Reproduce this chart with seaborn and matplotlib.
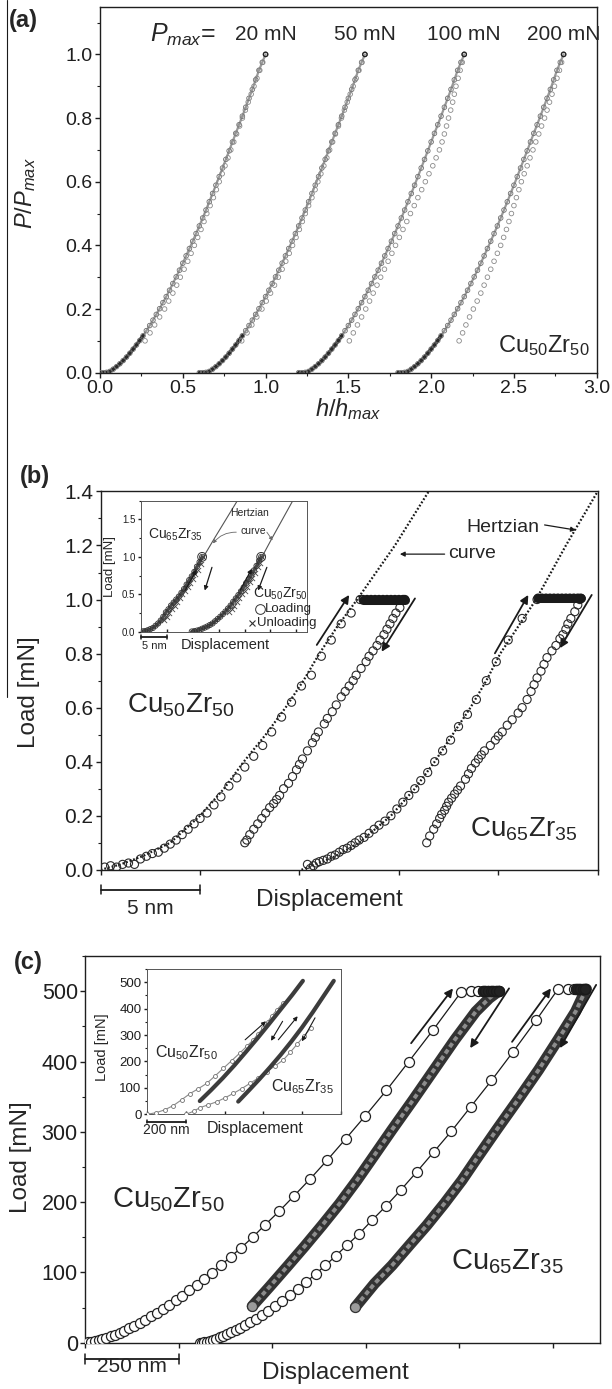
import matplotlib
matplotlib.use("Agg")
import matplotlib.pyplot as plt
from matplotlib.lines import Line2D
from matplotlib.ticker import MultipleLocator
import seaborn as sns

# ---------------- panel (a): normalised P/Pmax vs h/hmax ----------------
a_labels = ["20 mN", "50 mN", "100 mN", "200 mN"]
a_shift = [0.0, 0.6, 1.2, 1.8]          # each curve is shifted along h/hmax
a_load_h = [0.00, 0.02, 0.04, 0.06, 0.08, 0.10, 0.12, 0.14, 0.16, 0.18, 0.20,
            0.22, 0.24, 0.26, 0.28, 0.30, 0.32, 0.34, 0.36, 0.38, 0.40, 0.42,
            0.44, 0.46, 0.48, 0.50, 0.52, 0.54, 0.56, 0.58, 0.60, 0.62, 0.64,
            0.66, 0.68, 0.70, 0.72, 0.74, 0.76, 0.78, 0.80, 0.82, 0.84, 0.86,
            0.88, 0.90, 0.92, 0.94, 0.96, 0.98, 1.00]
a_load_p = [0.000, 0.000, 0.001, 0.004, 0.011, 0.019, 0.028, 0.038, 0.049, 0.061,
            0.074, 0.087, 0.101, 0.116, 0.132, 0.148, 0.165, 0.183, 0.201, 0.220,
            0.239, 0.259, 0.280, 0.301, 0.322, 0.344, 0.367, 0.390, 0.413, 0.437,
            0.461, 0.486, 0.511, 0.537, 0.563, 0.589, 0.616, 0.643, 0.670, 0.697,
            0.725, 0.752, 0.779, 0.806, 0.834, 0.862, 0.890, 0.920, 0.950, 0.975,
            1.000]
a_unload_p = [0.100, 0.125, 0.150, 0.175, 0.200, 0.225, 0.250, 0.275, 0.300, 0.325,
              0.350, 0.375, 0.400, 0.425, 0.450, 0.475, 0.500, 0.525, 0.550, 0.575,
              0.600, 0.625, 0.650, 0.675, 0.700, 0.725, 0.750, 0.775, 0.800, 0.825,
              0.850, 0.875, 0.900, 0.925, 0.950, 0.975, 1.000]
a_unload_h = [
    [0.272, 0.302, 0.330, 0.360, 0.390, 0.415, 0.440, 0.463, 0.485, 0.508, 0.530,
     0.550, 0.570, 0.590, 0.610, 0.628, 0.645, 0.665, 0.685, 0.703, 0.720, 0.738,
     0.755, 0.773, 0.790, 0.808, 0.825, 0.843, 0.860, 0.878, 0.895, 0.913, 0.930,
     0.948, 0.965, 0.983, 1.000],
    [0.256, 0.288, 0.317, 0.347, 0.378, 0.404, 0.430, 0.454, 0.477, 0.500, 0.522,
     0.543, 0.563, 0.584, 0.604, 0.622, 0.640, 0.660, 0.680, 0.699, 0.716, 0.734,
     0.752, 0.770, 0.787, 0.805, 0.822, 0.840, 0.858, 0.876, 0.893, 0.911, 0.929,
     0.947, 0.964, 0.982, 1.000],
    [0.306, 0.330, 0.355, 0.380, 0.405, 0.428, 0.450, 0.473, 0.495, 0.518, 0.540,
     0.563, 0.585, 0.608, 0.630, 0.653, 0.675, 0.698, 0.720, 0.743, 0.765, 0.787,
     0.810, 0.830, 0.850, 0.866, 0.880, 0.893, 0.905, 0.918, 0.930, 0.940, 0.950,
     0.963, 0.975, 0.988, 1.000],
    [0.369, 0.390, 0.410, 0.432, 0.455, 0.478, 0.500, 0.520, 0.540, 0.560, 0.580,
     0.600, 0.620, 0.638, 0.655, 0.670, 0.685, 0.700, 0.715, 0.730, 0.745, 0.762,
     0.780, 0.797, 0.815, 0.832, 0.850, 0.867, 0.885, 0.900, 0.915, 0.930, 0.945,
     0.960, 0.975, 0.988, 1.000],
]

# ---------------- panel (b): 1 mN indents ----------------
b_hertz1_h = [0.0, 1.0, 2.1, 3.5, 5.0, 6.2, 7.2, 8.3, 9.3, 10.2, 11.0, 11.9, 12.9, 14.8, 16.5]
b_hertz1_p = [0, 0.02, 0.05, 0.1, 0.2, 0.3, 0.4, 0.5, 0.6, 0.7, 0.8, 0.9, 1.0, 1.2, 1.4]
b_hertz2_h = [10.1, 10.8, 11.8, 13.0, 14.6, 15.8, 16.8, 17.7, 18.6, 19.4, 20.1, 21.0, 21.9, 23.4, 25.0]
b_hertz2_p = [0, 0.02, 0.05, 0.1, 0.2, 0.3, 0.4, 0.5, 0.6, 0.7, 0.8, 0.9, 1.0, 1.2, 1.4]

b_cu50_load_h = [0.2, 0.5, 0.8, 1.1, 1.4, 1.7, 2.0, 2.3, 2.6, 2.9, 3.2, 3.5, 3.8, 4.1,
                 4.4, 4.7, 5.0, 5.35, 5.7, 6.05, 6.45, 6.85, 7.25, 7.7, 8.15, 8.6,
                 9.1, 9.6, 10.1, 10.6, 11.1, 11.6, 12.1, 12.6, 13.05]
b_cu50_load_p = [0.01, 0.015, 0.01, 0.02, 0.025, 0.02, 0.04, 0.05, 0.06, 0.065, 0.08,
                 0.095, 0.11, 0.13, 0.15, 0.17, 0.19, 0.21, 0.24, 0.27, 0.31, 0.34,
                 0.38, 0.42, 0.46, 0.51, 0.565, 0.62, 0.68, 0.72, 0.79, 0.85, 0.91,
                 0.95, 1.0]
b_cu50_hold_h = [13.2, 13.4, 13.6, 13.8, 14.0, 14.2, 14.4, 14.6, 14.8, 15.0, 15.2, 15.3]
b_cu50_hold_p = [1.0, 1.0, 1.0, 1.0, 1.0, 1.0, 1.0, 1.0, 1.0, 1.0, 1.0, 1.0]
b_cu50_unload_h = [15.25, 15.05, 14.85, 14.7, 14.55, 14.4, 14.25, 14.05, 13.9, 13.7,
                   13.5, 13.35, 13.1, 12.85, 12.7, 12.5, 12.3, 12.1, 11.85, 11.65,
                   11.4, 11.25, 10.95, 10.8, 10.65, 10.4, 10.15, 10.0, 9.85, 9.65,
                   9.45, 9.2, 9.0, 8.85, 8.7, 8.5, 8.3, 8.1, 7.9, 7.7, 7.5, 7.35, 7.25]
b_cu50_unload_p = [1.0, 0.97, 0.95, 0.93, 0.91, 0.89, 0.87, 0.85, 0.83, 0.81,
                   0.79, 0.77, 0.745, 0.72, 0.70, 0.68, 0.66, 0.64, 0.61, 0.585,
                   0.56, 0.54, 0.51, 0.49, 0.47, 0.44, 0.41, 0.39, 0.37, 0.345,
                   0.32, 0.30, 0.275, 0.26, 0.245, 0.23, 0.21, 0.19, 0.17, 0.15,
                   0.13, 0.11, 0.10]

b_cu65_load_h = [10.4, 10.55, 10.7, 10.85, 11.0, 11.2, 11.4, 11.6, 11.8, 12.0, 12.2,
                 12.4, 12.6, 12.8, 13.0, 13.25, 13.5, 13.75, 14.0, 14.3, 14.6, 14.9,
                 15.2, 15.5, 15.8, 16.1, 16.45, 16.8, 17.2, 17.6, 18.0, 18.45, 18.9,
                 19.4, 19.9, 20.5, 21.2, 21.95]
b_cu65_load_p = [0.02, 0.005, 0.015, 0.025, 0.03, 0.035, 0.04, 0.05, 0.055, 0.065,
                 0.075, 0.08, 0.09, 0.10, 0.11, 0.12, 0.135, 0.15, 0.165, 0.18, 0.20,
                 0.225, 0.25, 0.275, 0.30, 0.33, 0.36, 0.40, 0.44, 0.48, 0.53, 0.575,
                 0.63, 0.70, 0.77, 0.85, 0.93, 1.0]
b_cu65_hold_h = [22.0, 22.2, 22.4, 22.6, 22.8, 23.0, 23.2, 23.4, 23.6, 23.8, 24.0, 24.15]
b_cu65_hold_p = [1.005, 1.005, 1.005, 1.005, 1.005, 1.005, 1.005, 1.005, 1.005, 1.005,
                 1.005, 1.005]
b_cu65_unload_h = [24.1, 24.0, 23.85, 23.65, 23.5, 23.4, 23.25, 23.1, 22.9, 22.7,
                   22.45, 22.3, 22.15, 21.95, 21.8, 21.65, 21.45, 21.2, 21.0, 20.7,
                   20.45, 20.2, 20.0, 19.85, 19.6, 19.3, 19.15, 19.0, 18.85, 18.65,
                   18.5, 18.35, 18.1, 17.95, 17.8, 17.65, 17.5, 17.4, 17.3, 17.15,
                   17.05, 16.9, 16.75, 16.55, 16.4]
b_cu65_unload_p = [1.0, 0.98, 0.955, 0.93, 0.91, 0.89, 0.87, 0.855, 0.83, 0.81,
                   0.785, 0.76, 0.735, 0.71, 0.685, 0.66, 0.63, 0.60, 0.58, 0.555,
                   0.535, 0.51, 0.495, 0.48, 0.46, 0.44, 0.425, 0.41, 0.395, 0.375,
                   0.355, 0.335, 0.31, 0.295, 0.28, 0.265, 0.25, 0.235, 0.22, 0.205,
                   0.19, 0.17, 0.15, 0.125, 0.10]

# inset of (b)
bi_cu65_load_h = [0.3, 0.8, 1.3, 1.8, 2.3, 2.8, 3.3, 3.8, 4.3, 4.8, 5.3, 5.8, 6.3, 6.8,
                  7.3, 7.8, 8.3, 8.8, 9.3, 9.8, 10.3, 10.8, 11.3, 11.8]
bi_cu65_load_p = [0.005, 0.01, 0.02, 0.035, 0.05, 0.08, 0.11, 0.15, 0.2, 0.26, 0.3,
                  0.35, 0.39, 0.43, 0.47, 0.52, 0.57, 0.63, 0.69, 0.74, 0.8, 0.87,
                  0.93, 1.0]
bi_cu65_unload_h = [11.9, 11.5, 11.0, 10.5, 10.0, 9.5, 9.0, 8.5, 8.0, 7.5, 7.0, 6.5,
                    6.0, 5.5, 5.0, 4.5]
bi_cu65_unload_p = [1.0, 0.9, 0.83, 0.77, 0.71, 0.65, 0.6, 0.55, 0.5, 0.45, 0.4, 0.35,
                    0.3, 0.25, 0.2, 0.16]
bi_cu50_load_h = [9.8, 10.3, 10.8, 11.3, 11.8, 12.3, 12.8, 13.3, 13.8, 14.3, 14.8,
                  15.3, 15.8, 16.3, 16.8, 17.3, 17.8, 18.3, 18.8, 19.3, 19.8, 20.3,
                  20.8, 21.3, 21.8, 22.3, 22.8, 23.2]
bi_cu50_load_p = [0.003, 0.008, 0.015, 0.025, 0.04, 0.055, 0.07, 0.09, 0.11, 0.14,
                  0.17, 0.2, 0.235, 0.27, 0.31, 0.35, 0.4, 0.445, 0.49, 0.54, 0.59,
                  0.65, 0.7, 0.76, 0.82, 0.88, 0.95, 1.0]
bi_cu50_unload_h = [23.3, 22.9, 22.5, 22.0, 21.5, 21.0, 20.5, 20.0, 19.5, 19.0, 18.5,
                    18.0, 17.5, 17.0]
bi_cu50_unload_p = [1.0, 0.92, 0.86, 0.79, 0.72, 0.66, 0.6, 0.55, 0.5, 0.45, 0.4,
                    0.35, 0.3, 0.26]
bi_hertz1_h = [0, 3, 5, 7.6, 9.9, 11.8, 14.2, 16.4, 18.6]
bi_hertz1_p = [0, 0.07, 0.2, 0.48, 0.73, 0.97, 1.25, 1.5, 1.75]
bi_hertz2_h = [9.5, 12.5, 14.5, 17.0, 19.3, 21.4, 23.2, 25.3, 27.3, 29.3]
bi_hertz2_p = [0, 0.06, 0.15, 0.33, 0.54, 0.76, 0.98, 1.25, 1.5, 1.75]

# ---------------- panel (c): 500 mN indents ----------------
c_cu50_load_x = [0, 8, 16, 25, 35, 45, 56, 67, 79, 91, 104, 117, 131, 145, 160, 175,
                 191, 207, 224, 241, 259, 278, 297, 317, 339, 362, 388, 416, 447, 481,
                 518, 558, 601, 647, 696, 749, 805, 865, 930, 1005]
c_cu50_load_p = [0, 0.4, 1.1, 2.1, 3.5, 5.0, 7.0, 9.1, 11.6, 14.3, 17.4, 20.7, 24.5,
                 28.4, 32.9, 37.5, 42.8, 48.2, 54.1, 60.3, 67.1, 74.5, 82.1, 90.4, 99.8,
                 110, 122, 135, 150, 168, 187, 209, 233, 260, 290, 323, 359, 400, 445,
                 499]
c_cu50_hold_x = [1030, 1049, 1063, 1070, 1077, 1084, 1091, 1098, 1105]
c_cu50_hold_p = [500, 500, 500, 500, 500, 500, 500, 500, 500]
c_cu50_unload_x = [1105, 1080, 1044, 988, 932, 876, 820, 764, 726, 680, 633, 586,
                   539, 493, 446]
c_cu50_unload_p = [500, 490, 471, 431, 388, 345, 303, 260, 231, 198, 167, 137, 108,
                   80, 52]

c_cu65_load_x = [306, 312, 318, 325, 333, 341, 350, 359, 369, 379, 390, 402, 414, 427,
                 441, 456, 472, 489, 507, 526, 546, 568, 591, 616, 642, 670, 700, 732,
                 766, 803, 843, 886, 931, 979, 1031, 1086, 1144, 1206, 1264]
c_cu65_load_p = [0, 0.3, 0.9, 1.7, 2.8, 4.1, 5.8, 7.6, 9.7, 12.0, 14.8, 17.9, 21.2,
                 25.0, 29.3, 34.2, 39.6, 45.6, 52.3, 59.5, 67.6, 76.8, 86.7, 98.0, 110,
                 124, 139, 155, 174, 194, 217, 243, 271, 301, 336, 373, 414, 459, 503]
c_cu65_hold_x = [1292, 1306, 1312, 1318, 1324, 1330, 1336]
c_cu65_hold_p = [503, 503, 503, 503, 503, 503, 503]
c_cu65_unload_x = [1340, 1334, 1311, 1264, 1212, 1156, 1100, 1044, 1007, 960, 913,
                   867, 820, 773, 722]
c_cu65_unload_p = [503, 497, 471, 431, 388, 345, 303, 260, 231, 198, 167, 139, 110,
                   84, 51]

# inset of (c)
ci_cu50_load_x = [0, 45, 90, 134, 177, 220, 264, 307, 350, 393, 436, 479, 514, 548,
                  574, 600, 622, 643, 670, 700]
ci_cu50_load_p = [0, 6, 17, 33, 55, 78, 97, 117, 145, 174, 203, 232, 257, 282, 305,
                  327, 349, 371, 395, 420]
ci_cu65_load_x = [202, 240, 272, 315, 358, 401, 445, 488, 531, 575, 618, 661, 704, 740,
                  775, 810, 845]
ci_cu65_load_p = [0, 12, 25, 36, 47, 62, 79, 97, 117, 138, 161, 183, 206, 235, 265,
                  295, 325]
ci_cu50_unload_x = [271, 330, 390, 450, 510, 570, 630, 690, 750, 805]
ci_cu50_unload_p = [50, 92, 137, 185, 236, 288, 342, 397, 452, 505]
ci_cu65_unload_x = [470, 525, 580, 635, 690, 745, 800, 855, 910, 965]
ci_cu65_unload_p = [48, 90, 133, 178, 225, 275, 328, 385, 445, 505]


sns.set_theme(style="ticks")
plt.rcParams["font.family"] = ["Liberation Sans", "DejaVu Sans"]
plt.rcParams["mathtext.fontset"] = "custom"
plt.rcParams["mathtext.rm"] = "Liberation Sans"
plt.rcParams["mathtext.it"] = "Liberation Sans:italic"
plt.rcParams["mathtext.bf"] = "Liberation Sans:bold"
plt.rcParams["axes.linewidth"] = 1.0

INK = "#1e1e1e"


def style_axes(ax, size, major=3.5, minor=2.0, direction="out"):
    for sp in ax.spines.values():
        sp.set_linewidth(1.0)
        sp.set_color(INK)
        sp.set_visible(True)
    ax.tick_params(which="major", direction=direction, length=major, width=1.0,
                   labelsize=size, color=INK, labelcolor=INK, pad=2)
    ax.tick_params(which="minor", direction=direction, length=minor, width=0.8, color=INK)
    ax.tick_params(top=False, right=False)
    ax.set_facecolor("white")


def circles(ax, x, y, s, ec, lw=0.7, fc="none", z=3, marker="o"):
    sns.scatterplot(x=x, y=y, ax=ax, marker=marker, s=s, facecolor=fc,
                    edgecolor=ec, linewidth=lw, zorder=z, legend=False)


def line(ax, x, y, **kw):
    sns.lineplot(x=x, y=y, ax=ax, sort=False, estimator=None, legend=False, **kw)


def arrow(ax, tail, head, lw=1.3, ms=12, color="k"):
    ax.annotate("", xy=head, xytext=tail,
                arrowprops=dict(arrowstyle="-|>", color=color, lw=lw,
                                mutation_scale=ms, shrinkA=0, shrinkB=0))


def scale_bar(ax, x0, x1, y, text, ty, size):
    ax.plot([x0, x1], [y, y], color="k", lw=1.3, transform=ax.transAxes, clip_on=False)
    for xx in (x0, x1):
        ax.plot([xx, xx], [y - 0.012, y + 0.012], color="k", lw=1.1,
                transform=ax.transAxes, clip_on=False)
    ax.text((x0 + x1) / 2, ty, text, transform=ax.transAxes, ha="center", va="center",
            fontsize=size)


fig = plt.figure(figsize=(6.12, 13.89), dpi=100)
ax_a = fig.add_axes([0.1634, 0.7317, 0.8116, 0.2635])
ax_b = fig.add_axes([0.1645, 0.3738, 0.8121, 0.2724])
ax_c = fig.add_axes([0.1397, 0.0333, 0.8399, 0.2784])
ins_b = fig.add_axes([0.2304, 0.5452, 0.2708, 0.0943])
ins_c = fig.add_axes([0.2410, 0.1978, 0.3154, 0.1046])

# ---------- (a) ----------
for i, shift in enumerate(a_shift):
    lh = [h + shift for h in a_load_h]
    uh = [h + shift for h in a_unload_h[i]]
    line(ax_a, lh, a_load_p, color="#9a9a9a", lw=1.6, zorder=2)
    line(ax_a, lh[:14], a_load_p[:14], color="#2a2a2a", lw=2.6, zorder=2)
    circles(ax_a, lh, a_load_p, 11, "#6f6f6f", lw=0.6)
    circles(ax_a, uh, a_unload_p, 11, "#8a8a8a", lw=0.6)
    circles(ax_a, [1.0 + shift], [1.0], 10, "#222222", lw=0.9, z=4)
    ax_a.text(1.0 + shift, 1.062, a_labels[i], ha="center", va="center", fontsize=15)
ax_a.text(0.30, 1.06, r"$P_{max}$=", ha="left", va="center", fontsize=18)
ax_a.text(2.96, 0.085, r"Cu$_{50}$Zr$_{50}$", ha="right", va="center", fontsize=17)
ax_a.set_xlim(0, 3.0)
ax_a.set_ylim(0, 1.15)
ax_a.xaxis.set_major_locator(MultipleLocator(0.5))
ax_a.xaxis.set_minor_locator(MultipleLocator(0.25))
ax_a.yaxis.set_major_locator(MultipleLocator(0.2))
ax_a.yaxis.set_minor_locator(MultipleLocator(0.1))
style_axes(ax_a, 14)
ax_a.set_xlabel(r"$h/h_{max}$", fontsize=17)
ax_a.set_ylabel(r"$P/P_{max}$", fontsize=17)
ax_a.xaxis.set_label_coords(0.5, -0.065)
ax_a.yaxis.set_label_coords(-0.125, 0.49)

# ---------- (b) ----------
for hx, hy in ((b_hertz1_h, b_hertz1_p), (b_hertz2_h, b_hertz2_p)):
    line(ax_b, hx, hy, color="k", lw=1.6, linestyle=(0, (0.8, 0.9)), zorder=2)
for lx, ly in ((b_cu50_load_h, b_cu50_load_p), (b_cu65_load_h, b_cu65_load_p),
               (b_cu50_unload_h, b_cu50_unload_p), (b_cu65_unload_h, b_cu65_unload_p)):
    circles(ax_b, lx, ly, 34, "#2a2a2a", lw=0.8)
for lx, ly in ((b_cu50_hold_h, b_cu50_hold_p), (b_cu65_hold_h, b_cu65_hold_p)):
    line(ax_b, lx, ly, color="k", lw=6.5, zorder=3, solid_capstyle="round")
    circles(ax_b, lx, ly, 34, "k", lw=0.9)
arrow(ax_b, (10.87, 0.832), (12.5, 1.017))
arrow(ax_b, (15.81, 1.004), (14.13, 0.807))
arrow(ax_b, (19.83, 0.801), (21.51, 1.017))
arrow(ax_b, (24.7, 1.017), (23.1, 0.82))
ax_b.text(18.4, 1.268, "Hertzian", ha="left", va="center", fontsize=14)
arrow(ax_b, (22.33, 1.276), (23.9, 1.257), lw=0.9, ms=7)
ax_b.text(17.5, 1.17, "curve", ha="left", va="center", fontsize=14)
arrow(ax_b, (17.3, 1.168), (15.05, 1.168), lw=0.9, ms=7)
ax_b.text(1.3, 0.61, r"Cu$_{50}$Zr$_{50}$", ha="left", va="center", fontsize=20)
ax_b.text(18.6, 0.15, r"Cu$_{65}$Zr$_{35}$", ha="left", va="center", fontsize=20)
ax_b.set_xlim(0, 25)
ax_b.set_ylim(0, 1.4)
ax_b.xaxis.set_major_locator(MultipleLocator(5))
ax_b.yaxis.set_major_locator(MultipleLocator(0.2))
ax_b.yaxis.set_minor_locator(MultipleLocator(0.1))
ax_b.set_xticklabels([])
style_axes(ax_b, 15)
ax_b.set_ylabel("Load [mN]", fontsize=17.5)
ax_b.yaxis.set_label_coords(-0.122, 0.47)
scale_bar(ax_b, 0.0, 0.2, -0.053, "5 nm", -0.101, 15)
ax_b.text(0.461, -0.08, "Displacement", transform=ax_b.transAxes, ha="center",
          va="center", fontsize=17.5)

# inset (b)
line(ins_b, bi_hertz1_h, bi_hertz1_p, color="#555555", lw=0.8, zorder=2)
line(ins_b, bi_hertz2_h, bi_hertz2_p, color="#555555", lw=0.8, zorder=2)
for lx, ly in ((bi_cu65_load_h, bi_cu65_load_p), (bi_cu50_load_h, bi_cu50_load_p)):
    line(ins_b, lx, ly, color="#4a4a4a", lw=2.4, zorder=2)
    circles(ins_b, lx, ly, 14, "#333333", lw=0.6)
for lx, ly in ((bi_cu65_unload_h, bi_cu65_unload_p), (bi_cu50_unload_h, bi_cu50_unload_p)):
    circles(ins_b, lx, ly, 14, "#444444", lw=0.6, marker="x", fc="#444444")
circles(ins_b, [11.8, 23.2], [1.0, 1.0], 40, "#333333", lw=0.7)
arrow(ins_b, (8.5, 0.55), (10.75, 0.83), lw=0.9, ms=6)
arrow(ins_b, (13.7, 0.86), (12.3, 0.55), lw=0.9, ms=6)
arrow(ins_b, (19.1, 0.55), (21.4, 0.84), lw=0.9, ms=6)
arrow(ins_b, (24.3, 0.86), (22.6, 0.55), lw=0.9, ms=6)
ins_b.text(21.0, 1.58, "Hertzian", ha="center", va="center", fontsize=7.5)
ins_b.text(21.7, 1.35, "curve", ha="center", va="center", fontsize=7.5)
ins_b.annotate("", xy=(13.9, 1.18), xytext=(18.4, 1.33),
               arrowprops=dict(arrowstyle="-|>", color="#666666", lw=0.6, mutation_scale=5,
                               shrinkA=0, shrinkB=0, connectionstyle="arc3,rad=0.25"))
ins_b.annotate("", xy=(25.4, 1.22), xytext=(24.3, 1.33),
               arrowprops=dict(arrowstyle="-|>", color="#666666", lw=0.6, mutation_scale=5,
                               shrinkA=0, shrinkB=0))
ins_b.text(6.66, 1.29, r"Cu$_{65}$Zr$_{35}$", ha="center", va="center", fontsize=10)
ins_b.text(27.0, 0.50, r"Cu$_{50}$Zr$_{50}$", ha="center", va="center", fontsize=10)
ins_b.plot([23.0], [0.305], marker="o", ms=7, mfc="none", mec="#333333", mew=0.7)
ins_b.text(23.9, 0.305, "Loading", ha="left", va="center", fontsize=9.5)
ins_b.plot([21.4], [0.117], marker="x", ms=5, mec="#333333", mew=0.8)
ins_b.text(22.4, 0.117, "Unloading", ha="left", va="center", fontsize=9.5)
ins_b.set_xlim(0, 32)
ins_b.set_ylim(0, 1.75)
ins_b.xaxis.set_major_locator(MultipleLocator(5))
ins_b.yaxis.set_major_locator(MultipleLocator(0.5))
ins_b.yaxis.set_minor_locator(MultipleLocator(0.25))
ins_b.set_xticklabels([])
style_axes(ins_b, 7, major=2.0, minor=1.2)
for sp in ins_b.spines.values():
    sp.set_linewidth(0.7)
    sp.set_color("#555555")
ins_b.tick_params(axis="x", direction="in")
ins_b.set_ylabel("Load [mN]", fontsize=9.5, labelpad=1)
ins_b.yaxis.set_label_coords(-0.15, 0.5)
scale_bar(ins_b, 0.0, 5 / 32, -0.04, "5 nm", -0.11, 8)
ins_b.text(0.51, -0.105, "Displacement", transform=ins_b.transAxes, ha="center",
           va="center", fontsize=10.5)

# ---------- (c) ----------
for lx, ly in ((c_cu50_load_x, c_cu50_load_p), (c_cu65_load_x, c_cu65_load_p)):
    line(ax_c, lx, ly, color="k", lw=0.9, zorder=2)
    circles(ax_c, lx, ly, 52, "#222222", lw=0.9, fc="white")
for lx, ly in ((c_cu50_unload_x, c_cu50_unload_p), (c_cu65_unload_x, c_cu65_unload_p)):
    line(ax_c, lx, ly, color="#333333", lw=8, zorder=3, solid_capstyle="round")
    line(ax_c, lx, ly, color="#8c8c8c", lw=2.8, zorder=3, linestyle=(0, (1.2, 0.8)))
    circles(ax_c, [lx[-1]], [ly[-1]], 52, "#333333", lw=0.9, fc="#9a9a9a", z=4)
for lx, ly in ((c_cu50_hold_x, c_cu50_hold_p), (c_cu65_hold_x, c_cu65_hold_p)):
    line(ax_c, lx[2:], ly[2:], color="k", lw=7, zorder=3, solid_capstyle="round")
    circles(ax_c, lx, ly, 52, "k", lw=0.9, fc="white", z=3)
    circles(ax_c, lx[2:], ly[2:], 52, "k", lw=1.0, fc="#222222", z=4)
arrow(ax_c, (871, 426), (983, 504))
arrow(ax_c, (1133, 504), (1029, 419))
arrow(ax_c, (1141, 428), (1245, 504))
arrow(ax_c, (1366, 509), (1269, 419))
ax_c.text(71, 203, r"Cu$_{50}$Zr$_{50}$", ha="left", va="center", fontsize=21)
ax_c.text(978, 115, r"Cu$_{65}$Zr$_{35}$", ha="left", va="center", fontsize=21)
ax_c.set_xlim(0, 1375)
ax_c.set_ylim(0, 550)
ax_c.xaxis.set_major_locator(MultipleLocator(250))
ax_c.yaxis.set_major_locator(MultipleLocator(100))
ax_c.yaxis.set_minor_locator(MultipleLocator(50))
ax_c.set_xticklabels([])
style_axes(ax_c, 15.5)
ax_c.set_ylabel("Load [mN]", fontsize=17.5)
ax_c.yaxis.set_label_coords(-0.104, 0.48)
scale_bar(ax_c, 0.0, 250 / 1375, -0.042, "250 nm", -0.062, 15)
ax_c.text(0.487, -0.079, "Displacement", transform=ax_c.transAxes, ha="center",
          va="center", fontsize=17.5)

# inset (c)
for lx, ly in ((ci_cu50_load_x, ci_cu50_load_p), (ci_cu65_load_x, ci_cu65_load_p)):
    line(ins_c, lx, ly, color="#8a8a8a", lw=0.8, zorder=2)
    circles(ins_c, lx, ly, 8, "#707070", lw=0.6, fc="white")
for lx, ly in ((ci_cu50_unload_x, ci_cu50_unload_p), (ci_cu65_unload_x, ci_cu65_unload_p)):
    line(ins_c, lx, ly, color="#3c3c3c", lw=3.0, zorder=3, solid_capstyle="round")
arrow(ins_c, (506, 282), (614, 352), lw=0.8, ms=6)
arrow(ins_c, (700, 352), (640, 278), lw=0.8, ms=6)
arrow(ins_c, (678, 282), (778, 371), lw=0.8, ms=6)
arrow(ins_c, (868, 365), (800, 276), lw=0.8, ms=6)
ins_c.text(202, 233, r"Cu$_{50}$Zr$_{50}$", ha="center", va="center", fontsize=11.5)
ins_c.text(800, 103, r"Cu$_{65}$Zr$_{35}$", ha="center", va="center", fontsize=11.5)
ins_c.set_xlim(0, 1000)
ins_c.set_ylim(0, 550)
ins_c.xaxis.set_major_locator(MultipleLocator(200))
ins_c.yaxis.set_major_locator(MultipleLocator(100))
ins_c.yaxis.set_minor_locator(MultipleLocator(50))
ins_c.set_xticklabels([])
style_axes(ins_c, 9.5, major=2.2, minor=1.3)
for sp in ins_c.spines.values():
    sp.set_linewidth(0.7)
    sp.set_color("#555555")
ins_c.tick_params(axis="x", direction="in")
ins_c.set_ylabel("Load [mN]", fontsize=10.5, labelpad=1)
ins_c.yaxis.set_label_coords(-0.2, 0.46)
scale_bar(ins_c, 0.0, 0.2, -0.05, "200 nm", -0.11, 10)
ins_c.text(0.56, -0.1, "Displacement", transform=ins_c.transAxes, ha="center",
           va="center", fontsize=11.5)

# panel letters and the page edge line of the scan
fig.text(23 / 612, 1 - 20 / 1389, "(a)", ha="center", va="center", fontsize=17,
         fontweight="bold")
fig.text(35 / 612, 1 - 477 / 1389, "(b)", ha="center", va="center", fontsize=17,
         fontweight="bold")
fig.text(28 / 612, 1 - 963 / 1389, "(c)", ha="center", va="center", fontsize=17,
         fontweight="bold")
fig.add_artist(Line2D([7 / 612, 7 / 612], [1.0, 1 - 697 / 1389], color="k", lw=0.8))

fig.savefig("out.png", dpi=100, facecolor="white")
